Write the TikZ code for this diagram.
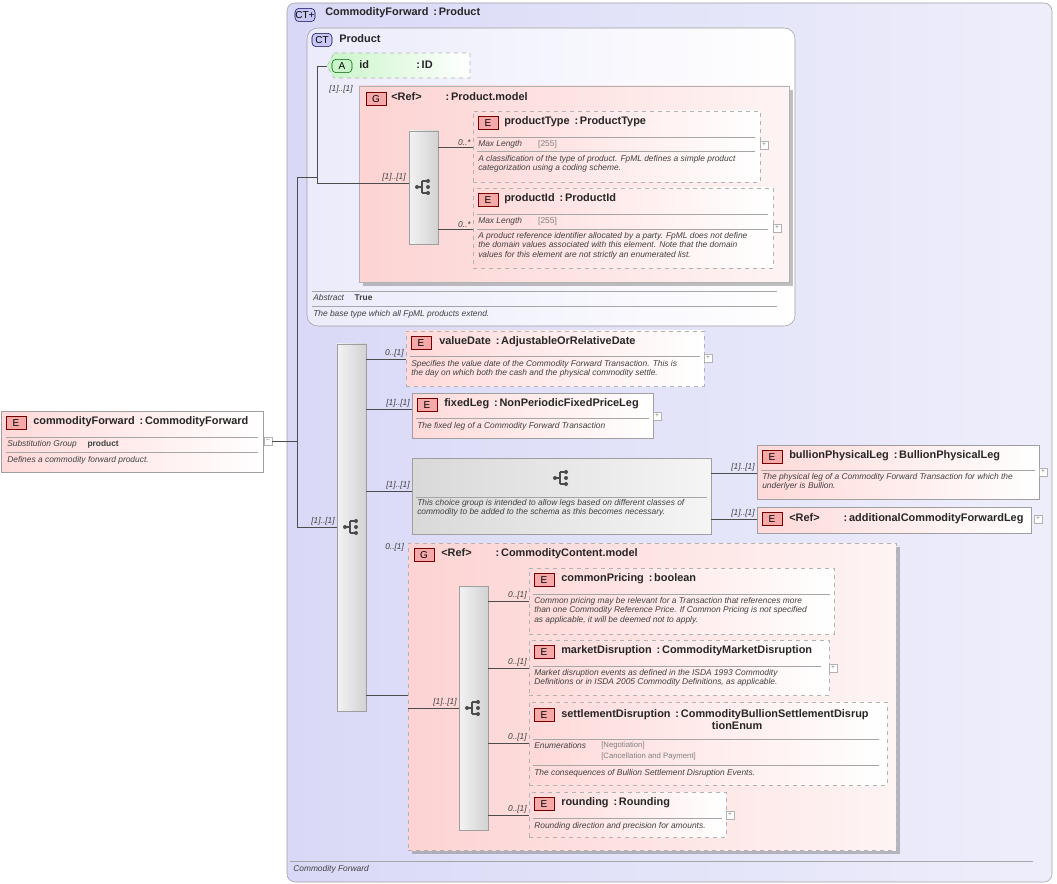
\documentclass[tikz,border=0pt]{standalone}
\usepackage{fontspec}
\setmainfont{Liberation Sans}
\usetikzlibrary{fit,shadows}
\definecolor{cfbg}{HTML}{D9D9F7}
\definecolor{ctbg}{HTML}{EBEBFB}
\definecolor{epink}{HTML}{FFD9D9}
\definecolor{gpink}{HTML}{FDD3D3}
\definecolor{bpink}{HTML}{F5A9A9}
\definecolor{agreen}{HTML}{C9F5C9}
\definecolor{ctbadge}{HTML}{C8C8F2}
\definecolor{dtext}{HTML}{404040}

\tikzset{
  box/.style={inner sep=0pt, draw=gray!75},
  elem/.style={box, left color=epink, right color=white},
  elemopt/.style={elem, dashed, draw=gray!60},
  grp/.style={box, draw=gray!60, left color=gpink, right color=gpink!25, drop shadow},
  seqbox/.style={box, left color=gray!10, right color=gray!35},
  badge/.style={draw=red!45!black, fill=bpink, inner sep=0pt, minimum width=15pt, minimum height=10pt, font=\fontsize{7.5}{7.5}\selectfont},
  ctbadge/.style={badge, draw=blue!40!black, fill=ctbadge, rounded corners=3pt},
  ttl/.style={anchor=west, inner sep=0pt, font=\bfseries\fontsize{8.2}{9.6}\selectfont, text=black!85},
  dsc/.style={anchor=north west, inner sep=0pt, align=left, font=\itshape\fontsize{6.3}{7.2}\selectfont, text=dtext},
  card/.style={inner sep=0pt, font=\itshape\fontsize{6.3}{7}\selectfont, text=dtext},
  pm/.style={draw=gray!60, fill=white, inner sep=0pt, minimum size=6pt, font=\fontsize{5}{5}\selectfont, text=gray},
  conn/.style={draw=gray!60!black, line width=0.5pt},
  rule/.style={draw=gray!70, line width=0.4pt}
}
\newcommand\seqicon[2]{%
  \fill[black!70] (#1-7,#2) circle (2);
  \draw[black!70, line width=0.8pt] (#1-7,#2) -- (#1-2,#2) (#1-2,#2-6) -- (#1-2,#2+6)
    (#1-2,#2-6) -- (#1+3,#2-6) (#1-2,#2+6) -- (#1+3,#2+6);
  \fill[black!70] (#1+4,#2-6) circle (2) (#1+4,#2) circle (2) (#1+4,#2+6) circle (2);}

\begin{document}
\begin{tikzpicture}[x=0.75pt, y=-0.75pt]
\useasboundingbox (0,0) rectangle (1057,884);
% outer complex type
\node[box, rounded corners=6pt, left color=cfbg, right color=cfbg!45, fit={(287,3)(1052,882)}] (cf) {};
\node[ctbadge] (cfb) at (305,15) {CT+};
\node[ttl] (cft) at (325,13) {CommodityForward\,\ :\,Product};
\draw[rule] (290,861) -- (1033,861);
\node[dsc] (cfd) at (293,865) {Commodity Forward};

% base type Product
\node[box, rounded corners=8pt, left color=ctbg, right color=white, fit={(307,28)(795,326)}] (prod) {};
\node[ctbadge] (prodb) at (322,40) {CT};
\node[ttl] (prodt) at (339,39) {Product};
\draw[dashed, draw=gray!60, left color=agreen, right color=white] (334,53) -- (470,53) -- (470,78) -- (334,78) -- (327,66) -- cycle;
\coordinate (idtip) at (327,66);
\node[badge, draw=green!35!black, fill=agreen, rounded corners=3pt] (idb) at (342,66) {A};
\node[ttl] (idt) at (359,65) {id};
\node[ttl] (idty) at (416,65) {:\,ID};
\node[card, anchor=west] (c1) at (329,89) {[1]..[1]};
\node[grp, fit={(359,86)(789,282)}] (pmod) {};
\node[badge] (pmodb) at (376,99) {G};
\node[ttl] (pmodt) at (391,97) {<Ref>\hspace{18pt}:\,Product.model};
\node[seqbox, fit={(409,131)(438,244)}] (pseq) {};
\seqicon{424}{187}
\node[elemopt, fit={(473,111)(760,182)}] (ptype) {};
\node[badge] (ptypeb) at (488,123) {E};
\node[ttl] (ptypet) at (504,122) {productType\,\ :\,ProductType};
\draw[rule] (477,137) -- (755,137) (477,151) -- (755,151);
\node[dsc] at (478,140) {Max Length\hspace{12pt}{\upshape\color{gray}[255]}};
\node[dsc] at (478,155) {A classification of the type of product. FpML defines a simple product\\categorization using a coding scheme.};
\node[pm] (ptypep) at (764,145) {+};
\node[elemopt, fit={(473,188)(773,268)}] (pid) {};
\node[badge] (pidb) at (488,200) {E};
\node[ttl] (pidt) at (504,199) {productId\,\ :\,ProductId};
\draw[rule] (477,214) -- (768,214) (477,229) -- (768,229);
\node[dsc] at (478,217) {Max Length\hspace{12pt}{\upshape\color{gray}[255]}};
\node[dsc] at (478,232) {A product reference identifier allocated by a party. FpML does not define\\the domain values associated with this element. Note that the domain\\values for this element are not strictly an enumerated list.};
\node[pm] (pidp) at (777,228) {+};
\draw[rule] (312,291) -- (777,291) (312,306) -- (777,306);
\node[dsc] at (313,294) {Abstract\hspace{8pt}{\upshape\bfseries True}};
\node[dsc] at (313,310) {The base type which all FpML products extend.};

% top element
\node[elem, fit={(1,411)(263,472)}] (cfe) {};
\node[badge] (cfeb) at (16,423) {E};
\node[ttl] (cfet) at (33,422) {commodityForward\,\ :\,CommodityForward};
\draw[rule] (6,437) -- (258,437) (6,452) -- (258,452);
\node[dsc] at (7,440) {Substitution Group\hspace{8pt}{\upshape\bfseries product}};
\node[dsc] at (7,456) {Defines a commodity forward product.};
\node[pm] (cfem) at (268,441) {--};

% main sequence
\node[seqbox, fit={(337,344)(366,711)}] (mseq) {};
\seqicon{352}{527}
\node[elemopt, fit={(406,331)(704,386)}] (vd) {};
\node[badge] (vdb) at (421,343) {E};
\node[ttl] (vdt) at (439,342) {valueDate\,\ :\,AdjustableOrRelativeDate};
\draw[rule] (410,356) -- (700,356);
\node[dsc] at (411,360) {Specifies the value date of the Commodity Forward Transaction. This is\\the day on which both the cash and the physical commodity settle.};
\node[pm] (vdp) at (708,358) {+};
\node[elem, fit={(412,393)(653,438)}] (fl) {};
\node[badge] (flb) at (427,405) {E};
\node[ttl] (flt) at (444,404) {fixedLeg\,\ :\,NonPeriodicFixedPriceLeg};
\draw[rule] (416,418) -- (649,418);
\node[dsc] at (417,422) {The fixed leg of a Commodity Forward Transaction};
\node[pm] (flp) at (657,416) {+};
\node[box, left color=gray!30, right color=gray!8, fit={(412,458)(711,534)}] (ch) {};
\seqicon{562}{478}
\draw[rule] (416,497) -- (707,497);
\node[dsc] at (417,499) {This choice group is intended to allow legs based on different classes of\\commodity to be added to the schema as this becomes necessary.};
\node[elem, fit={(757,445)(1039,499)}] (bl) {};
\node[badge] (blb) at (772,457) {E};
\node[ttl] (blt) at (789,456) {bullionPhysicalLeg\,\ :\,BullionPhysicalLeg};
\draw[rule] (761,470) -- (1035,470);
\node[dsc] at (762,473) {The physical leg of a Commodity Forward Transaction for which the\\underlyer is Bullion.};
\node[pm] (blp) at (1043,472) {+};
\node[elem, fit={(757,507)(1031,533)}] (acl) {};
\node[badge] (aclb) at (772,519) {E};
\node[ttl] (aclt) at (789,519) {<Ref>\hspace{18pt}:\,additionalCommodityForwardLeg};
\node[pm] (aclp) at (1038,519) {+};

% commodity content group
\node[card, anchor=west] (c2) at (385,547) {0..[1]};
\node[grp, dashed, fit={(408,543)(896,850)}] (ccm) {};
\node[badge] (ccmb) at (424,555) {G};
\node[ttl] (ccmt) at (441,554) {<Ref>\hspace{18pt}:\,CommodityContent.model};
\node[seqbox, fit={(459,586)(488,830)}] (cseq) {};
\seqicon{474}{708}
\node[elemopt, fit={(529,568)(834,634)}] (cp) {};
\node[badge] (cpb) at (544,580) {E};
\node[ttl] (cpt) at (561,579) {commonPricing\,\ :\,boolean};
\draw[rule] (533,594) -- (830,594);
\node[dsc] at (534,597) {Common pricing may be relevant for a Transaction that references more\\than one Commodity Reference Price. If Common Pricing is not specified\\as applicable, it will be deemed not to apply.};
\node[elemopt, fit={(529,640)(829,695)}] (md) {};
\node[badge] (mdb) at (544,652) {E};
\node[ttl] (mdt) at (561,651) {marketDisruption\,\ :\,CommodityMarketDisruption};
\draw[rule] (533,666) -- (821,666);
\node[dsc] at (534,669) {Market disruption events as defined in the ISDA 1993 Commodity\\Definitions or in ISDA 2005 Commodity Definitions, as applicable.};
\node[pm] (mdp) at (833,668) {+};
\node[elemopt, fit={(529,702)(887,785)}] (sd) {};
\node[badge] (sdb) at (544,715) {E};
\node[ttl, align=left, anchor=north west] (sdt) at (561,709) {settlementDisruption\,\ :\,CommodityBullionSettlementDisrup\\\hspace{113pt}tionEnum};
\draw[rule] (533,739) -- (879,739) (533,765) -- (879,765);
\node[dsc] at (534,742) {Enumerations};
\node[dsc, font=\fontsize{5.8}{7.8}\selectfont, text=gray] at (601,742) {{[Negotiation]}\\{}{[Cancellation and Payment]}};
\node[dsc] at (534,769) {The consequences of Bullion Settlement Disruption Events.};
\node[elemopt, fit={(529,792)(726,837)}] (rd) {};
\node[badge] (rdb) at (544,804) {E};
\node[ttl] (rdt) at (561,803) {rounding\,\ :\,Rounding};
\draw[rule] (533,818) -- (722,818);
\node[dsc] at (534,822) {Rounding direction and precision for amounts.};
\node[pm] (rdp) at (730,815) {+};

% connectors
\coordinate (ja) at (297,177);
\coordinate (jb) at (297,527);
\coordinate (jc) at (317,177);
\coordinate (jd) at (317,183);
\draw[conn] (cfem) -- (cfem -| ja);
\draw[conn] (ja) -- (jb) (ja) -- (jc);
\draw[conn] (idtip) -| (jd) -- (pseq.west |- jd);
\draw[conn] (jb) -- (mseq.west |- jb);
\node[card, anchor=south east] at (406,182) {[1]..[1]};
\node[card, anchor=south east] at (335,526) {[1]..[1]};
\draw[conn] (pseq.east |- 0,147) -- (ptype.west |- 0,147);
\node[card, anchor=south east] at (471,146) {0..*};
\draw[conn] (pseq.east |- 0,229) -- (pid.west |- 0,229);
\node[card, anchor=south east] at (471,228) {0..*};
\draw[conn] (mseq.east |- 0,359) -- (vd.west |- 0,359);
\node[card, anchor=south east] at (404,358) {0..[1]};
\draw[conn] (mseq.east |- 0,409) -- (fl.west |- 0,409);
\node[card, anchor=south east] at (410,408) {[1]..[1]};
\draw[conn] (mseq.east |- 0,491) -- (ch.west |- 0,491);
\node[card, anchor=south east] at (410,490) {[1]..[1]};
\draw[conn] (ch.east |- 0,473) -- (bl.west |- 0,473);
\node[card, anchor=south east] at (755,472) {[1]..[1]};
\draw[conn] (ch.east |- 0,519) -- (acl.west |- 0,519);
\node[card, anchor=south east] at (755,518) {[1]..[1]};
\draw[conn] (mseq.east |- 0,695) -- (ccm.west |- 0,695);
\draw[conn] (ccm.west |- 0,708) -- (cseq.west |- 0,708);
\node[card, anchor=south east] at (457,707) {[1]..[1]};
\draw[conn] (cseq.east |- 0,601) -- (cp.west |- 0,601);
\node[card, anchor=south east] at (527,600) {0..[1]};
\draw[conn] (cseq.east |- 0,668) -- (md.west |- 0,668);
\node[card, anchor=south east] at (527,667) {0..[1]};
\draw[conn] (cseq.east |- 0,743) -- (sd.west |- 0,743);
\node[card, anchor=south east] at (527,742) {0..[1]};
\draw[conn] (cseq.east |- 0,815) -- (rd.west |- 0,815);
\node[card, anchor=south east] at (527,814) {0..[1]};
\end{tikzpicture}
\end{document}
